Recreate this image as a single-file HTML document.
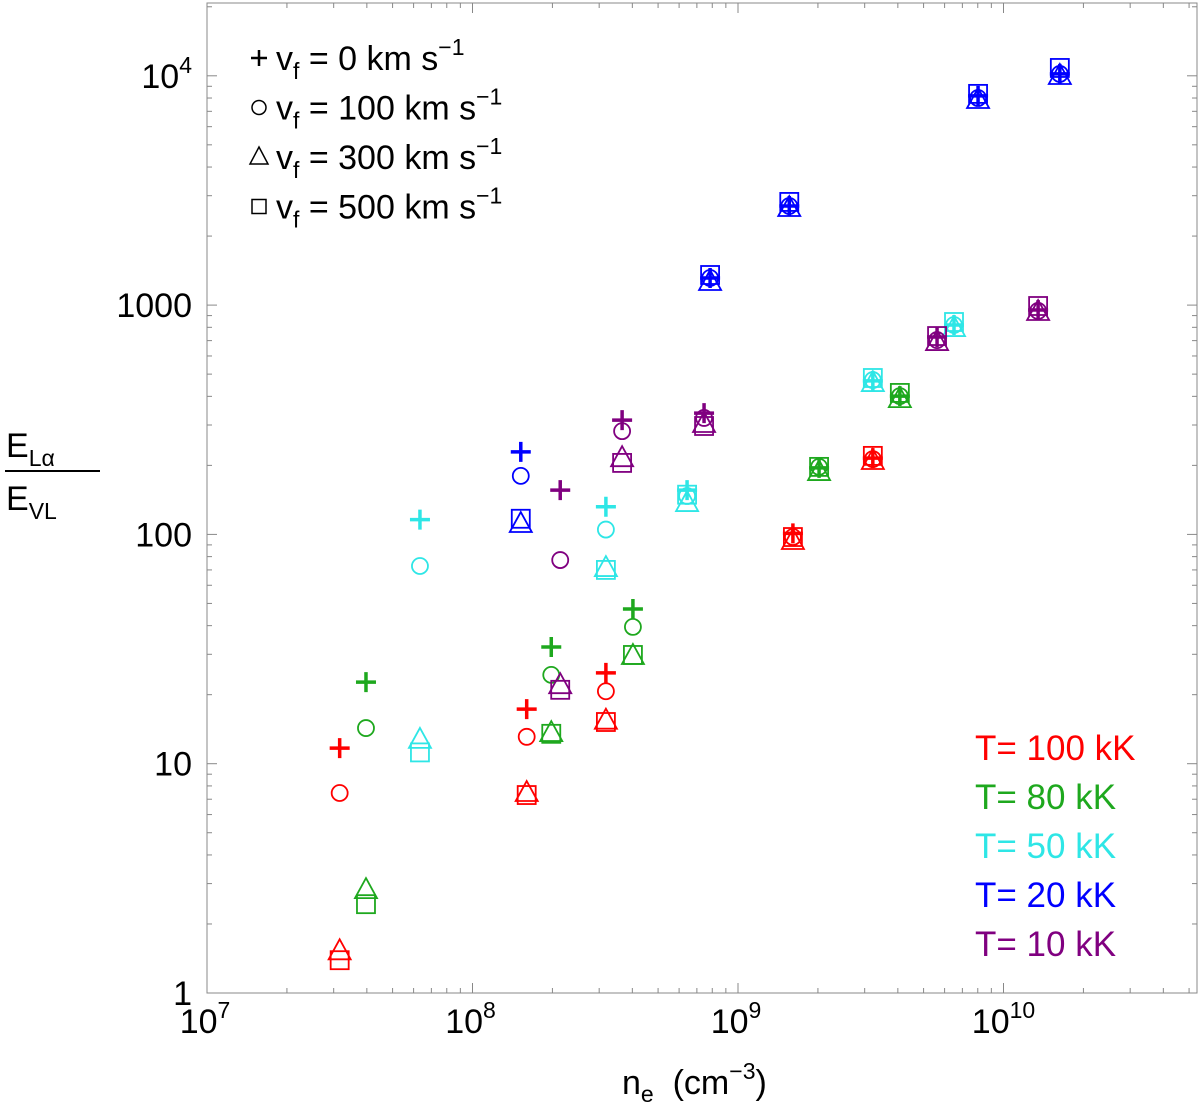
<!DOCTYPE html>
<html><head><meta charset="utf-8"><style>
html,body{margin:0;padding:0;background:#fff}
svg{display:block;font-family:"Liberation Sans",sans-serif}
</style></head><body>
<svg id="chart" width="1200" height="1113" viewBox="0 0 1200 1113"></svg>
<script>
const xVals=[[3.16e7,1.60e8,3.18e8,1.61e9,3.22e9],[3.97e7,1.98e8,4.02e8,2.02e9,4.07e9],[6.34e7,3.18e8,6.43e8,3.22e9,6.51e9],[1.52e8,7.85e8,1.56e9,8.02e9,1.63e10],[2.14e8,3.66e8,7.45e8,5.62e9,1.35e10]];
const seriesNames=["T= 100 kK","T= 80 kK","T= 50 kK","T= 20 kK","T= 10 kK"];
const seriesColors=["#ff0000","#1ea81e","#2ee6e6","#0000ff","#800080"];
const yPlus=[[11.7,17.3,24.9,101,215],[22.7,32.3,47.3,195,401],[116,132,156,467,819],[229,1313,2705,8170,10190],[156,315,338,726,952]];
const yCircle=[[7.45,13.1,20.7,97.4,213],[14.3,24.4,39.5,197,401],[72.8,105,147,471,819],[180,1313,2705,8000,10190],[77.3,282,322,704,943]];
const yTri=[[1.52,7.45,15.4,93.6,209],[2.81,13.6,29.5,187,389],[12.7,71.3,137,457,794],[111,1261,2651,7840,9980],[22.0,215,303,690,933]];
const ySq=[[1.39,7.3,15.2,97.4,220],[2.44,13.5,29.8,197,414],[11.2,70.0,149,481,844],[117,1353,2818,8340,10820],[21.0,205,297,733,991]];
const xTickLabels=["7","8","9","10"];
const yTickLabels=["1","10","100","1000","10^4"];

const L=207,R=1197,T=3,B=993;
const X=v=>L+(Math.log10(v)-7)*265.5;
const Y=v=>B-Math.log10(v)*229.3;
const NS="http://www.w3.org/2000/svg";
const svg=document.getElementById('chart');
function mk(t,a,p){const e=document.createElementNS(NS,t);for(const k in a)e.setAttribute(k,a[k]);(p||svg).appendChild(e);return e;}

const frame=mk('rect',{x:L,y:T,width:R-L,height:B-T,fill:'none',stroke:'#888','stroke-width':1});



const ticks=mk('g',{stroke:'#888','stroke-width':1});


for(let d=7;d<=10;d++){for(let m=1;m<10;m++){const v=m*Math.pow(10,d);const x=X(v);if(x>R)continue;const len=m==1?10:5;
 mk('line',{x1:x,y1:B,x2:x,y2:B-len},ticks);mk('line',{x1:x,y1:T,x2:x,y2:T+len},ticks);}}
for(let d=0;d<=4;d++){for(let m=1;m<10;m++){const v=m*Math.pow(10,d);const y=Y(v);if(y<T)continue;const len=m==1?10:5;
 mk('line',{x1:L,y1:y,x2:L+len,y2:y},ticks);mk('line',{x1:R,y1:y,x2:R-len,y2:y},ticks);}}

xTickLabels.forEach((s,i)=>{const t=mk('text',{x:X(Math.pow(10,7+i))-(s.length>1?0:2),y:1033,'font-size':34,'text-anchor':'middle',fill:'#000'});
 
 
 t.innerHTML='10<tspan dy="-15" font-size="23">'+s+'</tspan>';});
yTickLabels.forEach((s,i)=>{const y=Y(Math.pow(10,i))+12;let t;
 if(s.includes('^')){const p=s.split('^');t=mk('text',{x:192,y:y,'font-size':34,'text-anchor':'end',fill:'#000'});t.innerHTML=p[0]+'<tspan dy="-15" font-size="23">'+p[1]+'</tspan>';}
 else{t=mk('text',{x:192,y:y,'font-size':34,'text-anchor':'end',fill:'#000'});t.textContent=s;}
 
 });

function plus(g,x,y,c){mk('path',{d:`M${x-10},${y}H${x+10}M${x},${y-10}V${y+10}`,stroke:c,'stroke-width':3.5,fill:'none'},g);}
function circ(g,x,y,c){mk('circle',{cx:x,cy:y,r:8,stroke:c,'stroke-width':1.8,fill:'none'},g);}
function tri(g,x,y,c){mk('path',{d:`M${x},${y-12}L${x+11},${y+8}L${x-11},${y+8}Z`,stroke:c,'stroke-width':1.8,fill:'none'},g);}
function sq(g,x,y,c){mk('rect',{x:x-9,y:y-9,width:18,height:18,stroke:c,'stroke-width':1.8,fill:'none'},g);}

seriesNames.forEach((n,s)=>{const g=mk('g',{});
 
 
 const c=seriesColors[s];
 xVals[s].forEach((xv,i)=>{const x=X(xv);
  plus(g,x,Y(yPlus[s][i]),c);circ(g,x,Y(yCircle[s][i]),c);tri(g,x,Y(yTri[s][i]),c);sq(g,x,Y(ySq[s][i]),c);});
 const t=mk('text',{x:975,y:760+s*49,'font-size':35,fill:c});
 
 
 t.textContent=n;});

const vf=["0","100","300","500"];
const lg=mk('g',{});


[plus,circ,tri,sq].forEach((f,i)=>{const y=58+i*49.5;
 const sg=mk('g',{},lg);f(sg,259,y,'#000');
 sg.querySelectorAll('*').forEach(e=>{e.setAttribute('stroke-width',f===plus?2.5:1.5);});
 if(f===plus){sg.firstChild.setAttribute('d',`M251,${y}H267M259,${y-8}V${y+8}`);}
 if(f===circ){sg.firstChild.setAttribute('r',7);}
 if(f===tri){sg.firstChild.setAttribute('d',`M259,${y-10}L268,${y+7}L250,${y+7}Z`);}
 if(f===sq){sg.firstChild.setAttribute('x',252);sg.firstChild.setAttribute('y',y-7);sg.firstChild.setAttribute('width',14);sg.firstChild.setAttribute('height',14);}
 const t=mk('text',{x:276,y:y+12,'font-size':34,fill:'#000'},lg);
 
 
 t.innerHTML='v<tspan dy="9" font-size="23">f</tspan><tspan dy="-9"> = '+vf[i]+' km s</tspan><tspan dy="-15" font-size="23">−1</tspan>';});

const xl=mk('text',{x:622,y:1094,'font-size':34,fill:'#000'});


xl.innerHTML='n<tspan dy="8" font-size="23">e</tspan><tspan dy="-8" xml:space="preserve">  (cm</tspan><tspan dy="-15" font-size="23">−3</tspan><tspan dy="15">)</tspan>';
const yl=mk('g',{});


const t1=mk('text',{x:6,y:457,'font-size':34,fill:'#000'},yl);
t1.innerHTML='E<tspan dy="9" font-size="23">Lα</tspan>';
mk('line',{x1:5,y1:471,x2:100,y2:471,stroke:'#000','stroke-width':2},yl);
const t2=mk('text',{x:6,y:510,'font-size':34,fill:'#000'},yl);
t2.innerHTML='E<tspan dy="9" font-size="23">VL</tspan>';
</script>
</body></html>
